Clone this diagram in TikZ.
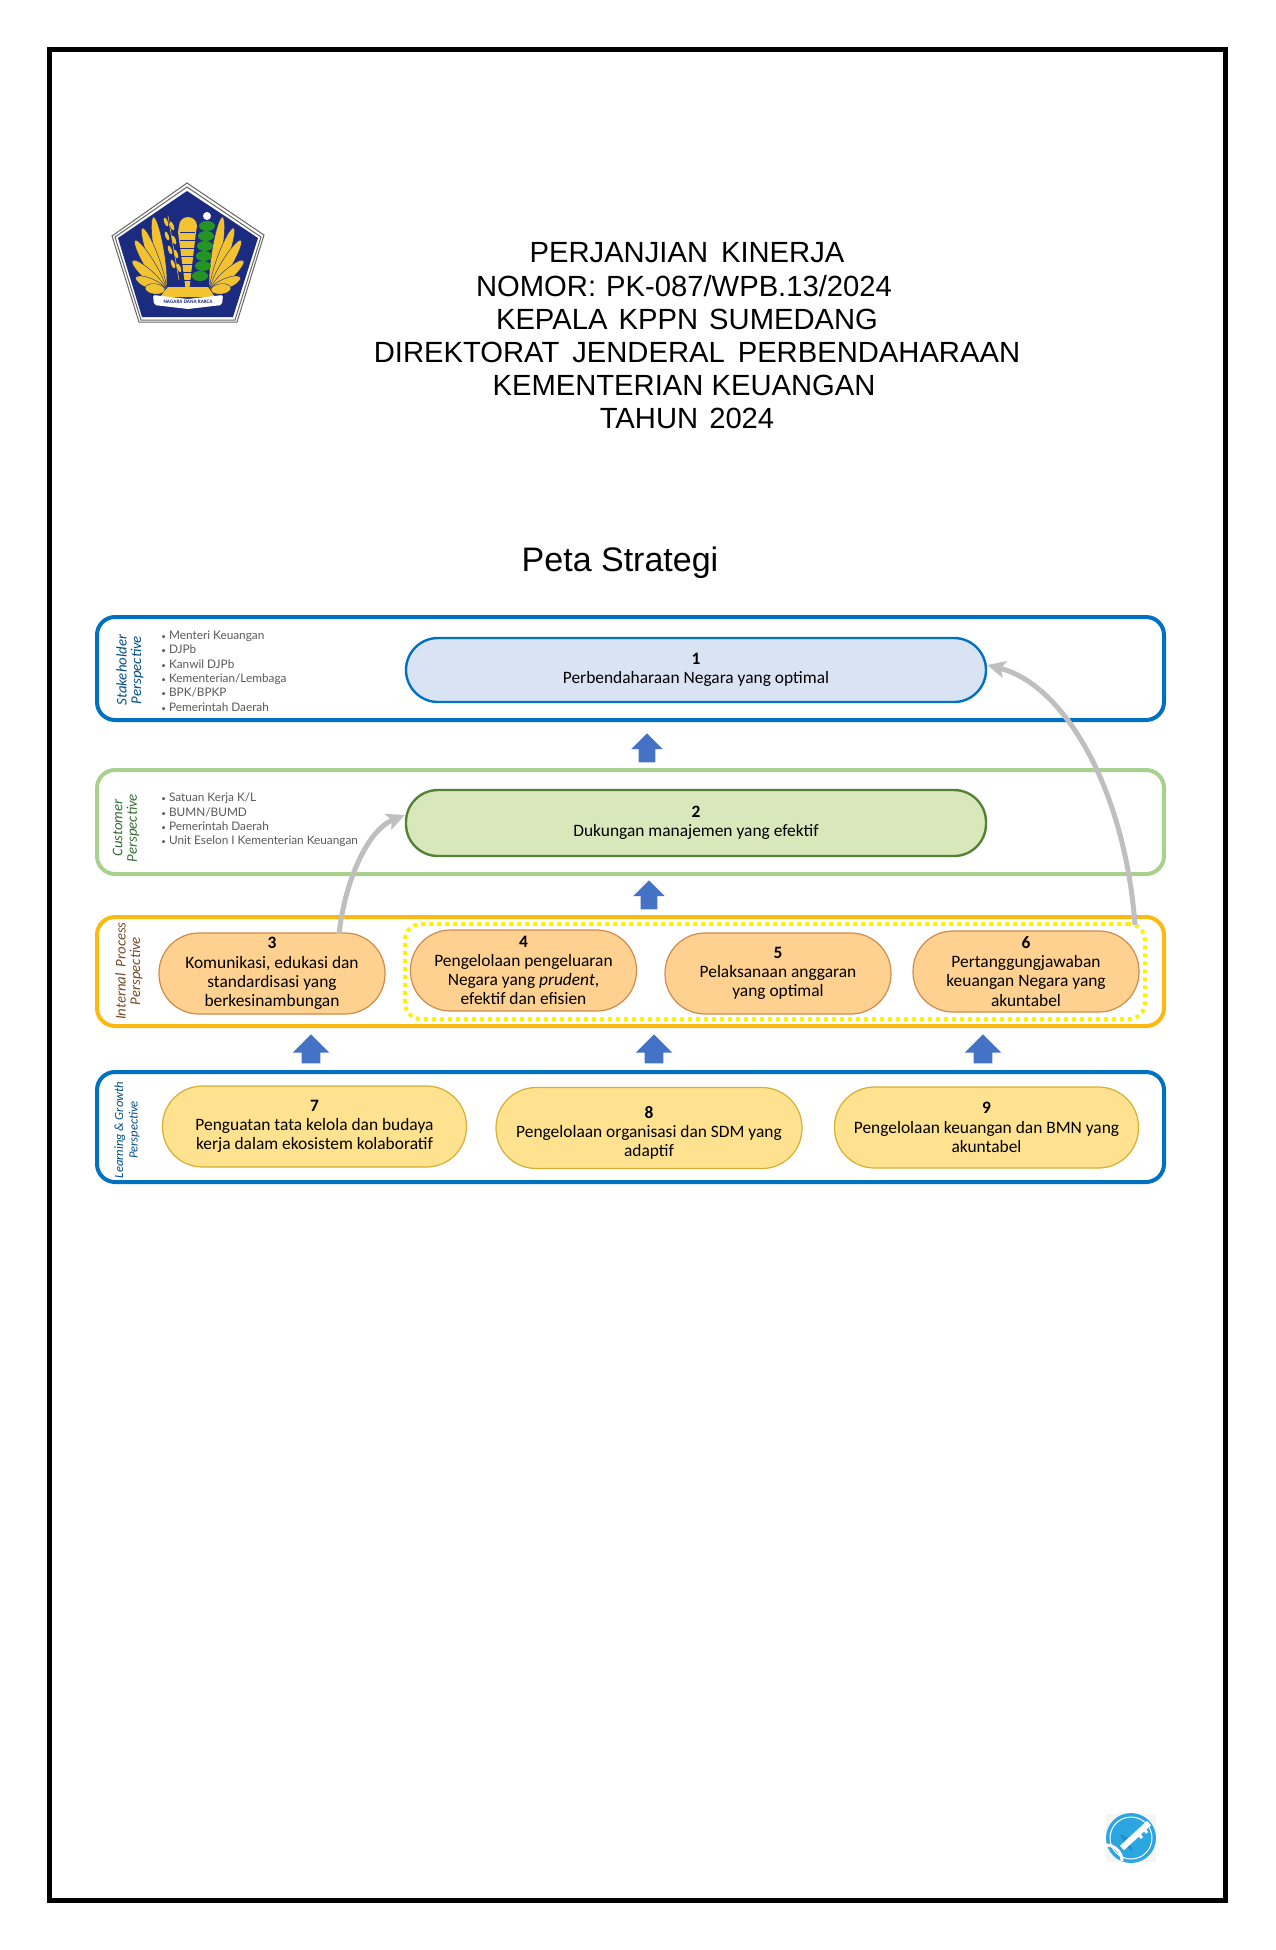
\documentclass[tikz,border=0pt]{standalone}
\usepackage{fontspec}
\usepackage{xcolor}
\setmainfont{Carlito}
\newfontfamily\listfont{Lato}
\newfontfamily\titlefont{Liberation Sans}
\usetikzlibrary{shapes,arrows,arrows.meta}
\definecolor{laneblue}{HTML}{0070C0}
\definecolor{lanegreen}{HTML}{A9D18E}
\definecolor{laneorange}{HTML}{FDB913}
\definecolor{navy}{HTML}{1B2B7F}
\definecolor{gold}{HTML}{F2C230}
\definecolor{arrowblue}{HTML}{4472C4}
\definecolor{processfill}{HTML}{FFD190}
\definecolor{processdraw}{HTML}{D08A4A}
\definecolor{learnfill}{HTML}{FFE28F}
\definecolor{learndraw}{HTML}{D6AE30}
\definecolor{keyblue}{HTML}{2BA6E0}
\newcommand{\smalldot}{{\fontsize{4}{4}\selectfont\textbullet}\ }
\tikzstyle{heading} = [font=\titlefont\fontsize{14.6}{16}\selectfont, inner sep=0pt]
\tikzstyle{lane} = [rectangle, draw, line width=2pt, rounded corners=9pt, minimum width=533.5pt]
\tikzstyle{lanetitle} = [rotate=90, font=\itshape\fontsize{7.4}{7.2}\selectfont, align=center, inner sep=0pt]
\tikzstyle{members} = [anchor=west, align=left, inner sep=0pt, text=black!65, font=\listfont\fontsize{5.9}{7.15}\selectfont]
\tikzstyle{goal} = [rectangle, draw, line width=1pt, align=center, inner sep=0pt, font=\fontsize{8.7}{9.6}\selectfont]
\tikzstyle{goalwide} = [goal, line width=1.2pt, rounded corners=16pt, minimum width=290pt]
\tikzstyle{goalprocess} = [goal, fill=processfill, draw=processdraw, line width=.6pt, rounded corners=20pt, minimum width=113pt, minimum height=40.5pt]
\tikzstyle{goallearn} = [goal, fill=learnfill, draw=learndraw, line width=.6pt, rounded corners=20pt, minimum width=152pt, minimum height=40.5pt]
\tikzstyle{uparrow} = [single arrow, fill=arrowblue, shape border rotate=90, inner ysep=0pt, inner xsep=4pt, minimum height=14.5pt]
\tikzstyle{line} = [draw=black!25, line width=2.5pt, -{Stealth[length=9pt,width=8.5pt,inset=2pt]}]
\begin{document}
\begin{tikzpicture}[x=0.5pt, y=-0.5pt]
    \useasboundingbox (0,0) rectangle (1275,1950);
    \draw [line width=2.5pt] (49,49) rectangle (1225,1900);

    \draw [draw=black!60, fill=white, line width=.5pt] (187,183) -- (264,235) -- (237,322) -- (139,322) -- (112,236) -- cycle;
    \draw [draw=black!60, line width=.5pt] (187,187) -- (261,237) -- (235,320) -- (141,320) -- (115,237) -- cycle;
    \fill [navy] (187,191) -- (258,238) -- (233,317) -- (142,317) -- (118,238) -- cycle;
    \foreach \ang/\len in {99/18.5, 110/16.5, 121/14.5, 138/11, 157/8, 174/5} {
        \draw [fill=gold, draw=navy, line width=.2pt, shift={(165,290)}, rotate=\ang] (\len pt,0) ellipse [x radius=\len pt, y radius=2.6pt];
        \draw [fill=gold, draw=navy, line width=.2pt, shift={(211,290)}, rotate=180-\ang] (\len pt,0) ellipse [x radius=\len pt, y radius=2.6pt];
    }
    \fill [gold] (179,226) arc [start angle=180, end angle=0, radius=4.5pt] -- (196,232) -- (189,292) -- (186,292) -- (178,232) -- cycle;
    \foreach \yy in {232,240,...,280} {
        \draw [navy, line width=.2pt] (180,\yy) -- (195,\yy);
    }
    \draw [gold, line width=.3pt] (168,216) -- (179,280);
    \foreach \yy/\xx in {222/166, 226/172, 236/167, 240/174, 250/170, 254/176, 264/173, 268/179} {
        \fill [gold, rotate around={20:(\xx,\yy)}] (\xx,\yy) ellipse [x radius=.9pt, y radius=2.3pt];
    }
    \foreach \yy/\xx in {226/207, 236/206, 246/205, 256/204, 266/203, 276/200} {
        \fill [green!50!black!85] (\xx,\yy) ellipse [x radius=4pt, y radius=2.5pt];
    }
    \fill [white] (207,216) circle [radius=2pt];
    \fill [gold] (168,287) -- (208,287) -- (215,297) -- (160,297) -- cycle;
    \fill [white, rounded corners=1pt] (153,295) -- (188,299) -- (223,295) -- (222,305) -- (188,309) -- (154,305) -- cycle;
    \node [font=\bfseries\fontsize{2.6}{3}\selectfont, text=navy, inner sep=0pt] (motto) at (188,302) {NAGARA DANA RAKCA};

    \node [heading] (title_a) at (687,253) {PERJANJIAN\, KINERJA};
    \node [heading] (title_b) at (684,286) {NOMOR:\hspace{1pt} PK-087/WPB.13/2024};
    \node [heading] (title_c) at (687,319) {KEPALA\hspace{1.5pt} KPPN\hspace{1.5pt} SUMEDANG};
    \node [heading] (title_d) at (697,352) {DIREKTORAT\, JENDERAL\, PERBENDAHARAAN};
    \node [heading] (title_e) at (684,385) {KEMENTERIAN KEUANGAN};
    \node [heading] (title_f) at (687,418) {TAHUN\hspace{1.5pt} 2024};
    \node [heading, font=\titlefont\fontsize{17}{18}\selectfont] (map_title) at (620,563) {Peta Strategi};

    \node [lane, draw=laneblue, minimum height=51.5pt] (lane_stake) at (630.5,668.5) {};
    \node [lane, draw=lanegreen, minimum height=52pt] (lane_cust) at (630.5,822) {};
    \node [lane, draw=laneorange, minimum height=54.5pt] (lane_proc) at (630.5,971.5) {};
    \node [lane, draw=laneblue, minimum height=55pt] (lane_learn) at (630.5,1127) {};

    \node [lanetitle, text=laneblue!70!black] (title_stake) at (130,670) {Stakeholder\\Perspective};
    \node [lanetitle, text=green!30!black!80] (title_cust) at (126,828) {Customer\\Perspective};
    \node [lanetitle, text=brown!60!black] (title_proc) at (129,971) {Internal\, Process\\Perspective};
    \node [lanetitle, text=laneblue!70!black, font=\itshape\fontsize{6.3}{7.2}\selectfont] (title_learn) at (127,1130) {Learning\,\& Growth\\Perspective};

    \node [members] (list_stake) at (161,671) {\smalldot Menteri Keuangan\\\smalldot DJPb\\\smalldot Kanwil DJPb\\\smalldot Kementerian/Lembaga\\\smalldot BPK/BPKP\\\smalldot Pemerintah Daerah};
    \node [members] (list_cust) at (161,820) {\smalldot Satuan Kerja K/L\\\smalldot BUMN/BUMD\\\smalldot Pemerintah Daerah\\\smalldot Unit Eselon I Kementerian Keuangan};

    \node [goalwide, fill={rgb,255:red,218;green,227;blue,243}, draw=laneblue, minimum height=32pt] (goal_one) at (696,670) {\textbf{1}\\Perbendaharaan Negara yang optimal};
    \node [goalwide, fill={rgb,255:red,217;green,232;blue,187}, draw={rgb,255:red,84;green,130;blue,53}, minimum height=33pt] (goal_two) at (696,823) {\textbf{2}\\Dukungan manajemen yang efektif};

    \node [rectangle, draw=yellow, line width=2pt, dash pattern=on 2pt off 2pt, rounded corners=8pt, minimum width=370pt, minimum height=47.5pt] (op_group) at (775,971.5) {};

    \node [goalprocess] (goal_three) at (272,973.5) {\textbf{3}\\Komunikasi, edukasi dan\\standardisasi yang\\berkesinambungan};
    \node [goalprocess] (goal_four) at (523.5,970.5) {\textbf{4}\\Pengelolaan pengeluaran\\Negara yang \textit{prudent},\\efektif dan efisien};
    \node [goalprocess] (goal_five) at (778,973.5) {\textbf{5}\\Pelaksanaan anggaran\\yang optimal};
    \node [goalprocess] (goal_six) at (1026,971.5) {\textbf{6}\\Pertanggungjawaban\\keuangan Negara yang\\akuntabel};

    \node [goallearn] (goal_seven) at (314.5,1126.5) {\textbf{7}\\Penguatan tata kelola dan budaya\\kerja dalam ekosistem kolaboratif};
    \node [goallearn, minimum width=153pt] (goal_eight) at (649,1128) {\rule{0pt}{11pt}\textbf{8}\\Pengelolaan organisasi dan SDM yang\\adaptif};
    \node [goallearn] (goal_nine) at (986.5,1127.5) {\textbf{9}\\Pengelolaan keuangan dan BMN yang\\akuntabel};

    \node [uparrow, single arrow head extend=3.75pt] (up_a) at (647,752) {};
    \node [uparrow, single arrow head extend=3.75pt] (up_b) at (649,899) {};
    \node [uparrow, inner xsep=4.5pt, single arrow head extend=4.5pt] (up_c) at (311,1053.5) {};
    \node [uparrow, inner xsep=4.5pt, single arrow head extend=4.5pt] (up_d) at (654,1053.5) {};
    \node [uparrow, inner xsep=4.5pt, single arrow head extend=4.5pt] (up_e) at (983,1053.5) {};

    \coordinate (start_three) at (339,934);
    \coordinate (start_six) at (1135,925);
    \path [line] (start_three) .. controls (345,880) and (368,830) .. ([yshift=4pt]goal_two.west);
    \path [line] (start_six) .. controls (1125,790) and (1065,685) .. ([yshift=2.5pt]goal_one.east);

    \fill [black!4] (1106,1814) rectangle (1156,1862);
    \fill [keyblue] (1131,1838) circle [radius=12.5pt];
    \draw [white, line width=.5pt] (1131,1838) circle [radius=10.5pt];
    \fill [keyblue!85!black] (1120,1834) -- (1126,1846) -- (1133,1852) -- (1128,1838) -- cycle;
    \draw [white, line width=3pt] (1122,1848) -- (1149,1823);
    \draw [white, line width=1.5pt] (1137,1832) -- (1142,1838);
    \draw [white, line width=1.5pt] (1143,1827) -- (1147,1833);
    \draw [white, line width=1.5pt] (1106,1845) arc [start angle=90, end angle=0, radius=8pt];
\end{tikzpicture}
\end{document}
